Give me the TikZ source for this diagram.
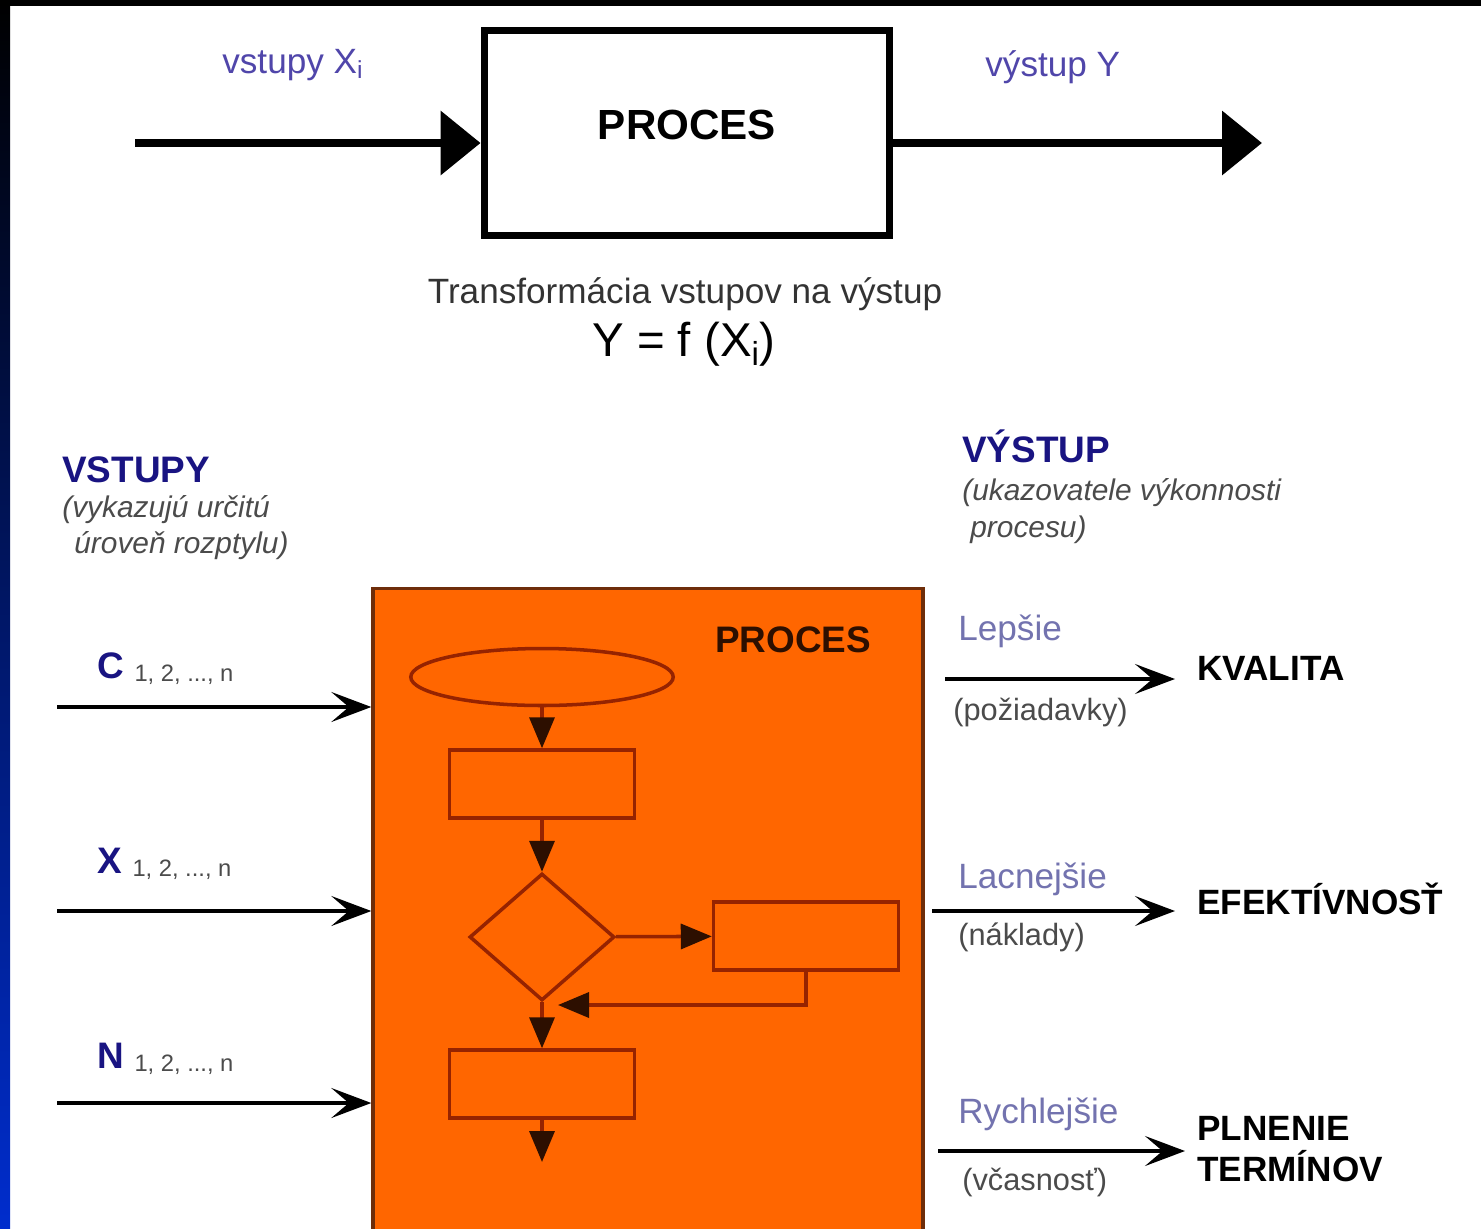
\documentclass[tikz,border=0pt]{standalone}
\usepackage{fontspec}
\setmainfont{Liberation Sans}
\usepackage{tikz}
\usetikzlibrary{arrows.meta,positioning,shapes.geometric}
\definecolor{frameblue}{RGB}{0,45,205}
\definecolor{framenavy}{RGB}{0,15,90}
\definecolor{lblblue}{RGB}{80,70,170}
\definecolor{headnavy}{RGB}{25,20,130}
\definecolor{softblue}{RGB}{115,115,175}
\definecolor{notegray}{RGB}{75,75,75}
\definecolor{procorange}{RGB}{255,102,0}
\definecolor{procedge}{RGB}{110,45,10}
\definecolor{flowedge}{RGB}{150,35,0}
\definecolor{flowtip}{RGB}{45,15,0}
\newcommand{\fsz}[2]{\fontsize{#1}{#2}\selectfont}
\newcommand{\idx}{\hspace{6pt}\raisebox{-2pt}{\fsz{13.5}{15}\mdseries\color{notegray}1, 2, ..., n}}

\begin{document}
\begin{tikzpicture}[x=0.02cm, y=-0.02cm, >=Stealth,
  txt/.style={inner sep=0pt, anchor=base west},
  toplbl/.style={txt, text=lblblue, font=\fsz{20}{24}},
  headlbl/.style={txt, text=headnavy, font=\fsz{21}{25}\bfseries},
  notelbl/.style={txt, text=notegray, font=\fsz{17}{21}\itshape},
  varlbl/.style={txt, text=headnavy, font=\fsz{21}{25}\bfseries},
  gainlbl/.style={txt, text=softblue, font=\fsz{20}{24}},
  unitlbl/.style={txt, text=notegray, font=\fsz{17.5}{21}},
  goallbl/.style={txt, font=\fsz{20}{24}\bfseries},
  bigbox/.style={draw, line width=4.5pt, minimum width=8.1cm, minimum height=4.1cm},
  procbox/.style={draw=procedge, fill=procorange, line width=2pt, minimum width=11cm, minimum height=12.9cm},
  stepbox/.style={draw=flowedge, line width=2pt, minimum width=3.7cm, minimum height=1.36cm},
  bigarrow/.style={line width=5pt, -{Triangle[length=0.8cm, width=1.25cm]}},
  inarrow/.style={line width=2.2pt, -{Stealth[length=0.8cm, width=0.6cm, inset=0.35cm]}},
  flow/.style={draw=flowedge, line width=2pt, -{Triangle[length=0.62cm, width=0.5cm, color=flowtip]}}]
  \fill[white] (0,0) rectangle (1481,1228);
  \shade[top color=black, middle color=framenavy, bottom color=frameblue] (0,0) rectangle (10,1228);
  \fill[black] (0,0) rectangle (1481,6);
  \useasboundingbox (0,0) rectangle (1481,1228);

  \node[bigbox, font=\fsz{24}{28}\bfseries, text depth=0.32cm] (proc) at (687,133) {PROCES};
  \coordinate (xin) at (135,143);
  \coordinate (yout) at (1262,143);
  \draw[bigarrow] (xin) -- (xin -| proc.west);
  \draw[bigarrow] (yout -| proc.east) -- (yout);
  \node[toplbl] (xlbl) at (222,73) {vstupy X\textsubscript{i}};
  \node[toplbl] (ylbl) at (985,76) {výstup Y};
  \node[txt, anchor=base, text=black!80, font=\fsz{20}{24}] (trans) at (685,303) {Transformácia vstupov na výstup};
  \node[txt, anchor=base, font=\fsz{27}{32}] (func) at (684,356) {Y = f (X\textsubscript{i})};

  \node[headlbl] (vst) at (62,482) {VSTUPY};
  \node[notelbl] (vstn) at (62,517) {(vykazujú určitú};
  \node[notelbl] (vstm) at (74,553) {úroveň rozptylu)};
  \node[headlbl] (vys) at (962,462) {VÝSTUP};
  \node[notelbl] (vysn) at (962,500) {(ukazovatele výkonnosti};
  \node[notelbl] (vysm) at (970,537) {procesu)};

  \node[procbox] (pbox) at (648,911) {};
  \node[txt, text=flowtip, font=\fsz{21}{25}\bfseries] (ptl) at (715,652) {PROCES};
  \node[ellipse, draw=flowedge, line width=2pt, minimum width=5.25cm, minimum height=1.14cm] (start) at (542,677) {};
  \node[stepbox] (s1) at (542,784) {};
  \node[diamond, draw=flowedge, line width=2pt, inner sep=0pt, minimum width=2.9cm, minimum height=2.54cm] (dec) at (542,937) {};
  \node[stepbox] (s2) at (806,936) {};
  \node[stepbox] (s3) at (542,1084) {};
  \coordinate (fin) at (542,1162);
  \coordinate (back) at (558,1005);
  \draw[flow] (start) -- (s1);
  \draw[flow] (s1) -- (dec);
  \draw[flow] (dec) -- (s2);
  \draw[flow] (s2.south) |- (back);
  \draw[flow] (dec) -- (s3);
  \draw[flow] (s3) -- (fin);

  \node[varlbl] (cl) at (97,678) {C\idx};
  \node[varlbl] (xl) at (97,873) {X\idx};
  \node[varlbl] (nl) at (97,1068) {N\idx};
  \coordinate (cin) at (57,707);
  \coordinate (xin2) at (57,911);
  \coordinate (nin) at (57,1103);
  \draw[inarrow] (cin) -- (cin -| pbox.west);
  \draw[inarrow] (xin2) -- (xin2 -| pbox.west);
  \draw[inarrow] (nin) -- (nin -| pbox.west);

  \node[gainlbl] (lep) at (958,640) {Lepšie};
  \node[unitlbl] (poz) at (953,720) {(požiadavky)};
  \node[goallbl] (kval) at (1197,680) {KVALITA};
  \node[gainlbl] (lac) at (958,888) {Lacnejšie};
  \node[unitlbl] (nak) at (958,945) {(náklady)};
  \node[goallbl] (efek) at (1197,914) {EFEKTÍVNOSŤ};
  \node[gainlbl] (ryc) at (958,1123) {Rychlejšie};
  \node[unitlbl] (vca) at (962,1190) {(včasnosť)};
  \node[goallbl] (pln) at (1197,1140) {PLNENIE};
  \node[goallbl] (term) at (1197,1181) {TERMÍNOV};
  \coordinate (qo) at (945,679);
  \coordinate (eo) at (932,911);
  \coordinate (po) at (938,1151);
  \draw[inarrow] (qo) -- ([xshift=-0.44cm]qo -| kval.west);
  \draw[inarrow] (eo) -- ([xshift=-0.44cm]eo -| efek.west);
  \draw[inarrow] (po) -- ([xshift=-0.24cm]po -| pln.west);
\end{tikzpicture}
\end{document}
